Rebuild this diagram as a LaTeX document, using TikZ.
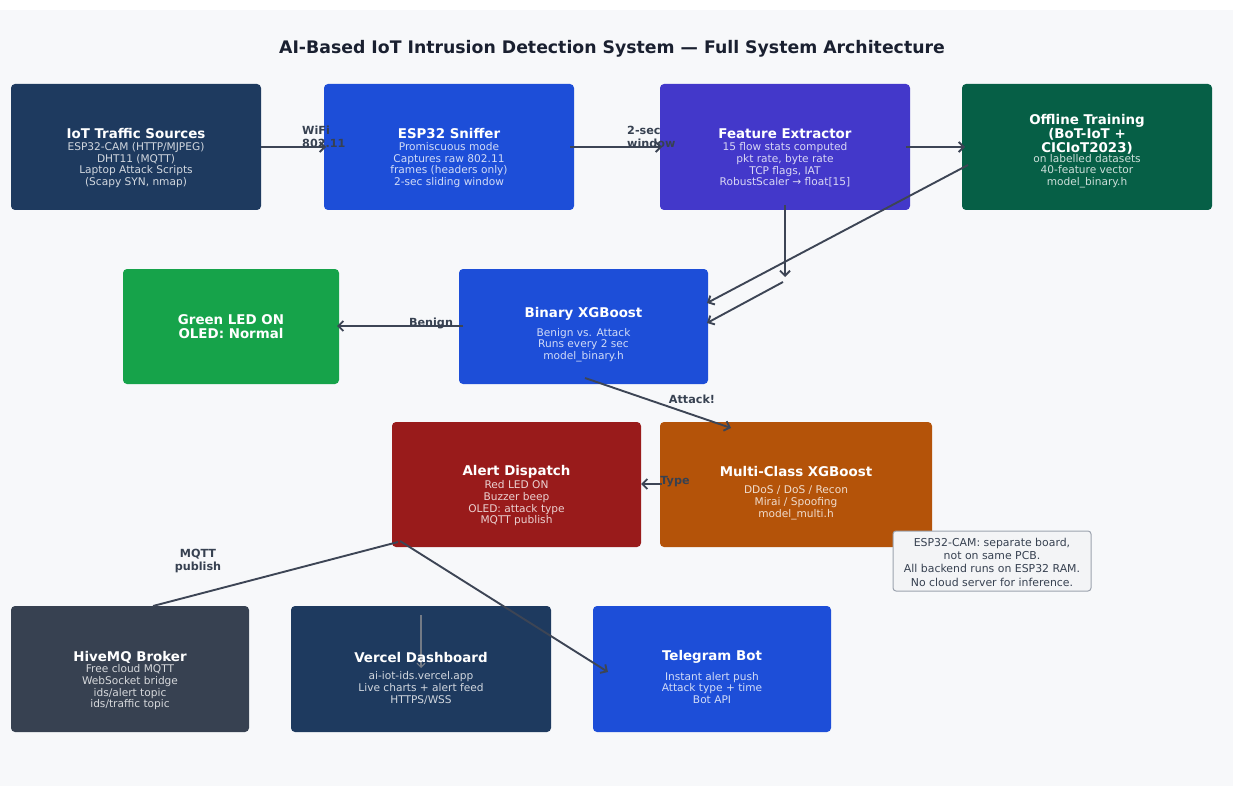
\documentclass[tikz,border=0pt]{standalone}
\usepackage{fontspec}
\setmainfont{DejaVu Sans}
\usetikzlibrary{arrows.meta}
\definecolor{bgc}{HTML}{F7F8FA}
\definecolor{navy}{HTML}{1E3A5F}
\definecolor{blu}{HTML}{1D4ED8}
\definecolor{indi}{HTML}{4338CA}
\definecolor{dgreen}{HTML}{065F46}
\definecolor{lgreen}{HTML}{16A34A}
\definecolor{dred}{HTML}{991B1B}
\definecolor{orng}{HTML}{B45309}
\definecolor{slate}{HTML}{374151}
\definecolor{arrc}{HTML}{3D4555}
\definecolor{ttlc}{HTML}{1A2030}
\definecolor{notef}{HTML}{F3F4F6}
\definecolor{noted}{HTML}{9CA3AF}
\tikzset{
  box/.style={rounded corners=4pt, inner sep=0pt, outer sep=0pt, draw=none},
  ttl/.style={text=white, align=center, inner sep=0pt, yshift=-1pt, font=\bfseries\fontsize{13.4}{14}\selectfont},
  bdy/.style={text=white, text opacity=0.8, align=center, inner sep=0pt, yshift=-1.5pt, font=\fontsize{10.6}{11.7}\selectfont},
  lbl/.style={text=slate, inner sep=0pt, font=\bfseries\fontsize{11.2}{13}\selectfont},
  conn/.style={draw=arrc, line width=1.9pt, -{Straight Barb[length=5pt,width=10pt]}},
  plain/.style={draw=arrc, line width=1.9pt},
}
\begin{document}
\begin{tikzpicture}[x=1pt,y=-1pt]
\useasboundingbox (0,0) rectangle (1233,786);
\fill[white] (0,0) rectangle (1233,786);
\fill[bgc] (0,10) rectangle (1233,786);

\node[text=ttlc, font=\bfseries\fontsize{17.3}{20}\selectfont, inner sep=0pt] (title) at (612,49) {AI-Based IoT Intrusion Detection System — Full System Architecture};

% boxes
\node[box, fill=navy, minimum width=250pt, minimum height=126pt] (iot) at (136,147) {};
\node[box, fill=blu, minimum width=250pt, minimum height=126pt] (sniff) at (449,147) {};
\node[box, fill=indi, minimum width=250pt, minimum height=126pt] (feat) at (785,147) {};
\node[box, fill=dgreen, minimum width=250pt, minimum height=126pt] (off) at (1087,147) {};
\node[box, fill=lgreen, minimum width=216pt, minimum height=115pt] (green) at (231,326.5) {};
\node[box, fill=blu, minimum width=249pt, minimum height=115pt] (bin) at (583.5,326.5) {};
\node[box, fill=dred, minimum width=249pt, minimum height=125pt] (alert) at (516.5,484.5) {};
\node[box, fill=orng, minimum width=272pt, minimum height=125pt] (multi) at (796,484.5) {};
\node[box, fill=notef, draw=noted, line width=1pt, rounded corners=3pt, minimum width=198pt, minimum height=60pt] (note) at (992,561) {};
\node[box, fill=slate, minimum width=238pt, minimum height=126pt] (hive) at (130,669) {};
\node[box, fill=navy, minimum width=260pt, minimum height=126pt] (vercel) at (421,669) {};
\node[box, fill=blu, minimum width=238pt, minimum height=126pt] (tele) at (712,669) {};

% thin arrow inside Vercel box
\coordinate (vtop) at (421,615);
\coordinate (vbot) at (421,668);
\draw[draw=slate!70!white, line width=1.1pt, -{Straight Barb[length=4pt,width=8pt]}] (vtop) -- (vbot);

% texts
\node[ttl] (iotT) at (136,133) {IoT Traffic Sources};
\node[bdy] (iotB) at (136,163.5) {ESP32-CAM (HTTP/MJPEG)\\DHT11 (MQTT)\\Laptop Attack Scripts\\(Scapy SYN, nmap)};
\node[ttl] (sniffT) at (449,133) {ESP32 Sniffer};
\node[bdy] (sniffB) at (449,163.5) {Promiscuous mode\\Captures raw 802.11\\frames (headers only)\\2-sec sliding window};
\node[ttl] (featT) at (785,133) {Feature Extractor};
\node[bdy] (featB) at (785,163.5) {15 flow stats computed\\pkt rate, byte rate\\TCP flags, IAT\\RobustScaler → float[15]};
\node[ttl] (offT) at (1087,133) {Offline Training\\(BoT-IoT +\\CICIoT2023)};
\node[bdy] (offB) at (1087,169.5) {on labelled datasets\\40-feature vector\\model\_binary.h};
\node[ttl] (greenT) at (231,326) {Green LED ON\\OLED: Normal};
\node[ttl] (binT) at (583.5,313) {Binary XGBoost};
\node[bdy] (binB) at (583.5,343.5) {Benign vs. Attack\\Runs every 2 sec\\model\_binary.h};
\node[ttl] (alertT) at (516.5,471) {Alert Dispatch};
\node[bdy] (alertB) at (516.5,502) {Red LED ON\\Buzzer beep\\OLED: attack type\\MQTT publish};
\node[ttl] (multiT) at (796,471) {Multi-Class XGBoost};
\node[bdy] (multiB) at (796,501.5) {DDoS / DoS / Recon\\Mirai / Spoofing\\model\_multi.h};
\node[text=slate, align=center, inner sep=0pt, yshift=-1pt, font=\fontsize{10.9}{13.3}\selectfont] (noteT) at (992,561) {ESP32-CAM: separate board,\\not on same PCB.\\All backend runs on ESP32 RAM.\\No cloud server for inference.};
\node[ttl] (hiveT) at (130,656) {HiveMQ Broker};
\node[bdy] (hiveB) at (130,686) {Free cloud MQTT\\WebSocket bridge\\ids/alert topic\\ids/traffic topic};
\node[ttl] (vercelT) at (421,656) {Vercel Dashboard};
\node[bdy] (vercelB) at (421,686.5) {ai-iot-ids.vercel.app\\Live charts + alert feed\\HTTPS/WSS};
\node[ttl] (teleT) at (712,656) {Telegram Bot};
\node[bdy] (teleB) at (712,686.5) {Instant alert push\\Attack type + time\\Bot API};

% connector end points
\coordinate (a1) at (261,147);   \coordinate (a2) at (326,147);
\coordinate (b1) at (570,147);   \coordinate (b2) at (662,147);
\coordinate (c1) at (906,147);   \coordinate (c2) at (965,147);
\coordinate (d1) at (785,205);   \coordinate (d2) at (785,277);
\coordinate (e1) at (783,282);   \coordinate (e2) at (707,323);
\coordinate (f1) at (968,165);   \coordinate (f2) at (707,303);
\coordinate (g1) at (463,326);   \coordinate (g2) at (337,326);
\coordinate (h1) at (585,378);   \coordinate (h2) at (731,428);
\coordinate (i1) at (662,484);   \coordinate (i2) at (641,484);
\coordinate (j1) at (398,542);   \coordinate (j2) at (153,606);
\coordinate (k1) at (400,541);   \coordinate (k2) at (608,672);

\draw[conn] (a1) -- (a2);
\draw[conn] (b1) -- (b2);
\draw[conn] (c1) -- (c2);
\draw[conn] (d1) -- (d2);
\draw[conn] (e1) -- (e2);
\draw[conn] (f1) -- (f2);
\draw[conn] (g1) -- (g2);
\draw[conn] (h1) -- (h2);
\draw[conn] (i1) -- (i2);
\draw[plain] (j1) -- (j2);
\draw[conn] (k1) -- (k2);

% labels
\node[lbl, align=left, anchor=west] (wifi) at (302,136.5) {WiFi\\802.11};
\node[lbl, align=left, anchor=west] (win) at (627,136.5) {2-sec\\window};
\node[lbl] (benign) at (431,323) {Benign};
\node[lbl] (attack) at (692,399) {Attack!};
\node[lbl] (type) at (675,482) {Type};
\node[lbl, align=center] (mqtt) at (198,561.5) {MQTT\\publish};
\end{tikzpicture}
\end{document}
